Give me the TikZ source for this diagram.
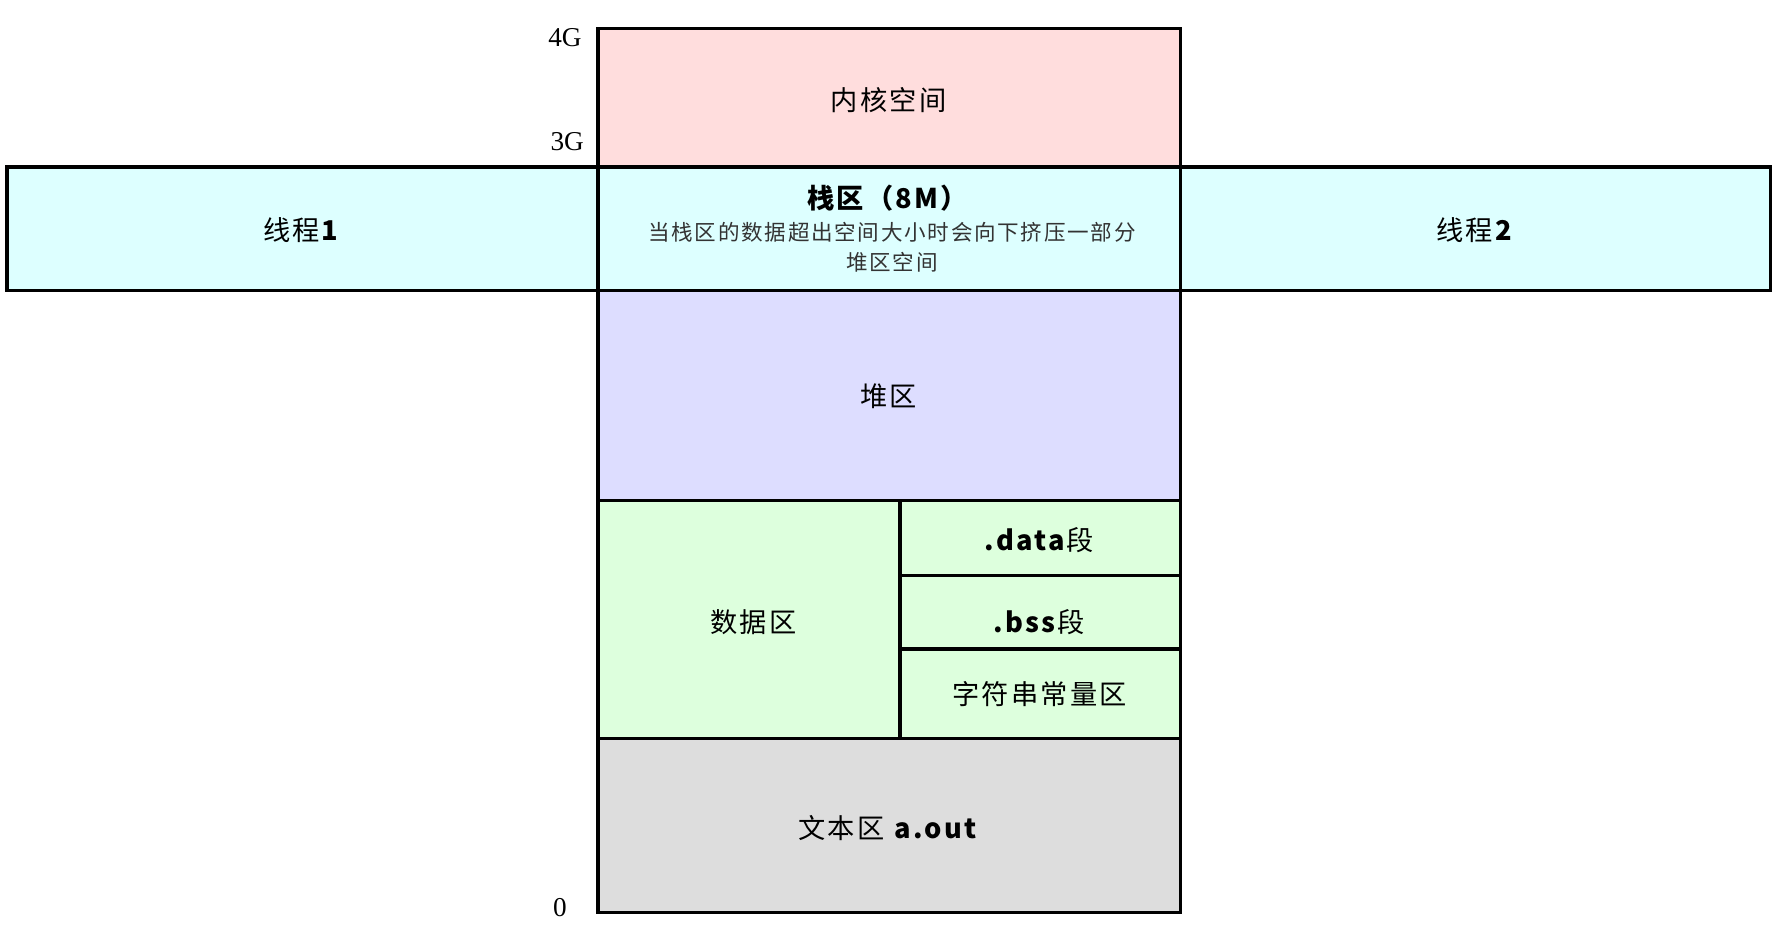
\documentclass[tikz,border=0pt]{standalone}
\usepackage{fontspec}
\setmainfont{Liberation Serif}
\newfontfamily\cjk{Noto Sans CJK SC}[LetterSpace=8]
\begin{document}
\begin{tikzpicture}[x=1pt,y=-1pt,
  box/.style={draw=black,line width=3pt},
  lab/.style={font=\fontsize{24}{28}\selectfont\cjk,align=center},
  ax/.style={font=\fontsize{24}{28}\selectfont}]
\useasboundingbox (0,0) rectangle (1565,835);
\definecolor{kpink}{RGB}{255,221,221}
\definecolor{kcyan}{RGB}{221,255,255}
\definecolor{kblue}{RGB}{221,221,255}
\definecolor{kgreen}{RGB}{221,255,221}
\definecolor{kgray}{RGB}{221,221,221}
\draw[box,fill=kpink] (527,25) rectangle (1040,147);
\draw[box,fill=kcyan] (6,147) rectangle (527,256);
\draw[box,fill=kcyan] (1040,147) rectangle (1560,256);
\draw[box,fill=kcyan] (527,147) rectangle (1040,256);
\draw[box,fill=kblue] (527,256) rectangle (1040,441);
\draw[box,fill=kgreen] (527,441) rectangle (793,651);
\draw[box,fill=kgreen] (793,441) rectangle (1040,507);
\draw[box,fill=kgreen] (793,507) rectangle (1040,572);
\draw[box,fill=kgreen] (793,572) rectangle (1040,651);
\draw[box,fill=kgray] (527,651) rectangle (1040,804);
\node[lab] (k) at (783,88) {内核空间};
\node[lab] (t1) at (266,203) {线程\textbf{1}};
\node[lab] (t2) at (1300,203) {线程\textbf{2}};
\node[lab] (s) at (783,175) {\textbf{栈区（8M）}};
\node[lab,font=\fontsize{19}{26}\selectfont\cjk,text=black!80] (sd) at (786,218) {当栈区的数据超出空间大小时会向下挤压一部分\\堆区空间};
\node[lab] (h) at (783,349) {堆区};
\node[lab] (d) at (664,548) {数据区};
\node[lab] (dd) at (916,476) {\textbf{.data}段};
\node[lab] (bs) at (916,548) {\textbf{.bss}段};
\node[lab] (cs) at (916,612) {字符串常量区};
\node[lab] (tx) at (783,730) {文本区 \textbf{a.out}};
\node[ax,anchor=east] (g4) at (516,33) {4G};
\node[ax,anchor=east] (g3) at (518,125) {3G};
\node[ax,anchor=east] (z) at (503,800) {0};
\end{tikzpicture}
\end{document}
